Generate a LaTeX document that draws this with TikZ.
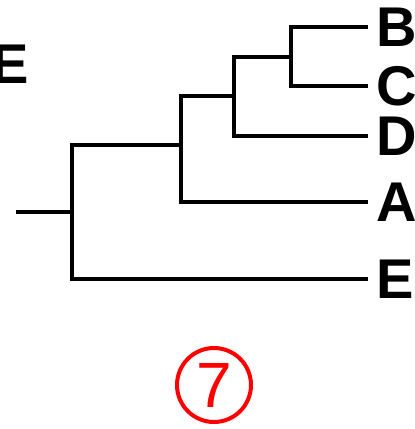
\documentclass[tikz,border=0pt]{standalone}
\usepackage{fontspec}
\setmainfont{Liberation Sans}
\usetikzlibrary{positioning}

\begin{document}
\begin{tikzpicture}[x=1pt, y=-1pt]
  \tikzstyle{rama}=[line width=3.4pt]
  \tikzstyle{hoja}=[anchor=west, inner xsep=8pt, inner ysep=0pt, font=\fontsize{56}{60}\selectfont\bfseries]
  \tikzstyle{numero}=[circle, draw=red, text=red, line width=4pt, inner sep=0pt, minimum size=74pt, font=\fontsize{64}{70}\selectfont]
  \useasboundingbox (0,0) rectangle (415,429);

  % Hojas
  \node[hoja] (lB) at (368,27) {B};
  \node[hoja] (lC) at (368,86) {C};
  \node[hoja] (lD) at (368,136) {D};
  \node[hoja] (lA) at (368,202) {A};
  \node[hoja] (lE) at (368,279) {E};
  \node[hoja, anchor=east, inner xsep=0pt] (eRec) at (29,64) {E};

  % Nodos internos
  \coordinate (raiz) at (16,212);
  \coordinate (n1) at (72,212);
  \coordinate (n2) at (181,145);
  \coordinate (n3) at (234,96);
  \coordinate (n4) at (291,57);

  % Ramas
  \draw[rama] (n4) |- (lB.west);
  \draw[rama] (n4) |- (lC.west);
  \draw[rama] (n3) |- (n4);
  \draw[rama] (n3) |- (lD.west);
  \draw[rama] (n2) |- (n3);
  \draw[rama] (n2) |- (lA.west);
  \draw[rama] (n1) |- (n2);
  \draw[rama] (n1) |- (lE.west);
  \draw[rama] (raiz) -- (n1);

  % Numero
  \node[numero] (num) at (214,385) {\raisebox{-4pt}{7}};
\end{tikzpicture}
\end{document}
